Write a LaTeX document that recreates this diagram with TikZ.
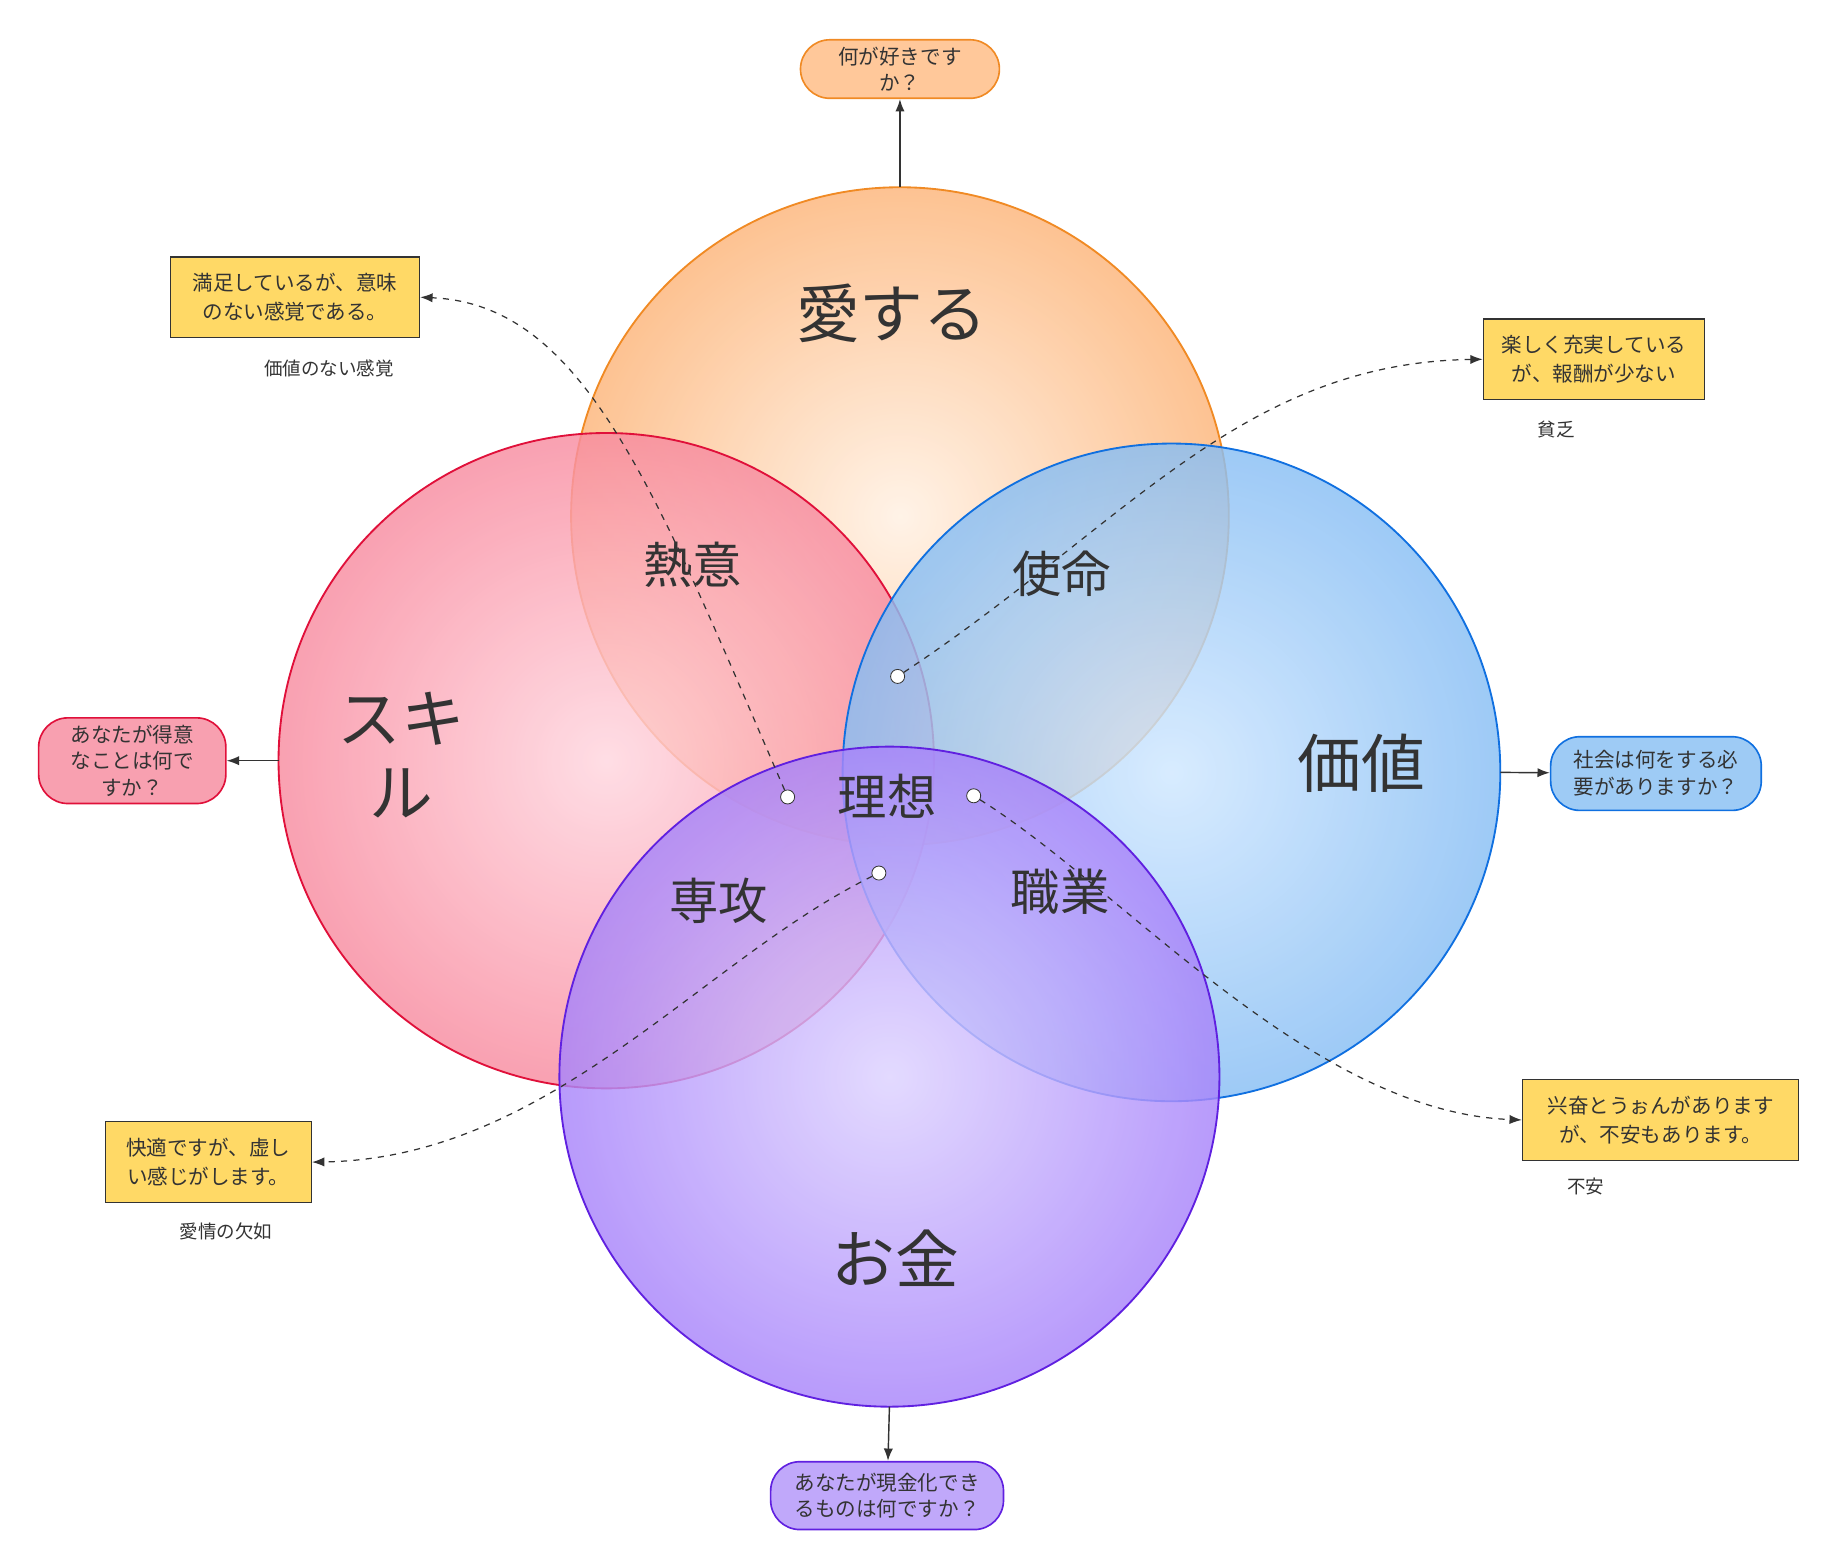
\documentclass[tikz,border=0pt]{standalone}
\usepackage{fontspec}
\setmainfont{Noto Sans CJK JP}
\usetikzlibrary{arrows.meta}
\definecolor{orgline}{HTML}{F08A24}
\definecolor{orgfill}{HTML}{FDB57A}
\definecolor{orginner}{HTML}{FFF0E2}
\definecolor{orgbox}{HTML}{FFC89A}
\definecolor{redline}{HTML}{E0103A}
\definecolor{redfill}{HTML}{F88CA0}
\definecolor{redinner}{HTML}{FFD6DF}
\definecolor{redbox}{HTML}{F8A0B0}
\definecolor{bluline}{HTML}{1070E0}
\definecolor{blufill}{HTML}{88BEF4}
\definecolor{bluinner}{HTML}{CFE7FF}
\definecolor{blubox}{HTML}{9ECBF5}
\definecolor{purline}{HTML}{6020E0}
\definecolor{purfill}{HTML}{A884FA}
\definecolor{purinner}{HTML}{DDD2FF}
\definecolor{purbox}{HTML}{C0A8FA}
\definecolor{notefill}{HTML}{FFD966}
\definecolor{txt}{HTML}{333333}
\tikzset{
  ring/.style={draw=#1line, line width=0.9pt, fill opacity=0.82, shading=radial,
    inner color=#1inner, outer color=#1fill},
  biglabel/.style={font=\fontsize{31}{36}\selectfont, text=txt},
  midlabel/.style={font=\fontsize{24}{28}\selectfont, text=txt},
  note/.style={draw=txt, fill=notefill, line width=0.7pt, align=center,
    font=\fontsize{10}{14}\selectfont, text=txt, minimum height=1.38cm},
  ask/.style={draw=#1line, fill=#1box, rounded corners=0.5cm, line width=0.8pt,
    align=center, font=\fontsize{10}{13}\selectfont, text=txt},
  small/.style={font=\fontsize{9}{11}\selectfont, text=txt},
  link/.style={draw=txt, dashed, line width=0.6pt, -{Latex[length=6pt]}},
  dot/.style={circle, draw=txt, fill=white, inner sep=0pt, minimum size=0.24cm},
  tie/.style={draw=txt, line width=0.7pt, -{Latex[length=6pt]}}
}
\begin{document}
\begin{tikzpicture}[x=0.02cm, y=-0.02cm]
\useasboundingbox (0,0) rectangle (1568,1338);
% circles
\shade[ring=org] (769,441) circle (281);
\shade[ring=red] (518,650) circle (280);
\shade[ring=blu] (1001,660) circle (281);
\shade[ring=pur] (760,920) circle (282);
\coordinate (top) at (769,160);
\coordinate (lft) at (238,650);
\coordinate (rgt) at (1282,660);
\coordinate (bot) at (760,1202);

% labels
\node[biglabel] (love) at (762,268) {愛する};
\node[biglabel, align=center] (skill) at (343,645) {スキ\\ル};
\node[biglabel] (value) at (1163,652) {価値};
\node[biglabel] (money) at (765,1075) {お金};
\node[midlabel] (passion) at (592,483) {熱意};
\node[midlabel] (mission) at (907,490) {使命};
\node[midlabel] (ideal) at (758,680) {理想};
\node[midlabel] (major) at (614,770) {専攻};
\node[midlabel] (job) at (906,762) {職業};

% questions
\node[ask=org, minimum width=3.4cm, minimum height=1cm] (qlove) at (769,59) {何が好きです\\か？};
\node[ask=red, minimum width=3.2cm, minimum height=1.36cm] (qskill) at (113,650) {あなたが得意\\なことは何で\\すか？};
\node[ask=blu, minimum width=3.6cm, minimum height=1.26cm] (qvalue) at (1415,661) {社会は何をする必\\要がありますか？};
\node[ask=pur, minimum width=3.98cm, minimum height=1.16cm] (qmoney) at (758,1278) {あなたが現金化でき\\るものは何ですか？};
\draw[tie] (top) -- (qlove);
\draw[tie] (lft) -- (qskill);
\draw[tie] (rgt) -- (qvalue);
\draw[tie] (bot) -- (qmoney);

% notes
\node[note, minimum width=4.26cm] (n1) at (252,254) {満足しているが、意味\\のない感覚である。};
\node[small] (s1) at (281,315) {価値のない感覚};
\node[note, minimum width=3.78cm] (n2) at (1362,307) {楽しく充実している\\が、報酬が少ない};
\node[small] (s2) at (1330,367) {貧乏};
\node[note, minimum width=4.72cm] (n3) at (1419,957) {兴奋とうぉんがあります\\が、不安もあります。};
\node[small] (s3) at (1355,1014) {不安};
\node[note, minimum width=3.52cm] (n4) at (178,993) {快適ですが、虚し\\い感じがします。};
\node[small] (s4) at (193,1052) {愛情の欠如};

% dashed links
\node[dot] (d1) at (673,681) {};
\node[dot] (d2) at (767,578) {};
\node[dot] (d3) at (832,680) {};
\node[dot] (d4) at (751,746) {};
\draw[link] (d1) .. controls (560,420) and (500,260) .. (n1.east);
\draw[link] (d2) .. controls (960,450) and (1060,310) .. (n2.west);
\draw[link] (d3) .. controls (960,760) and (1120,950) .. (n3.west);
\draw[link] (d4) .. controls (600,820) and (470,990) .. (n4.east);
\end{tikzpicture}
\end{document}
